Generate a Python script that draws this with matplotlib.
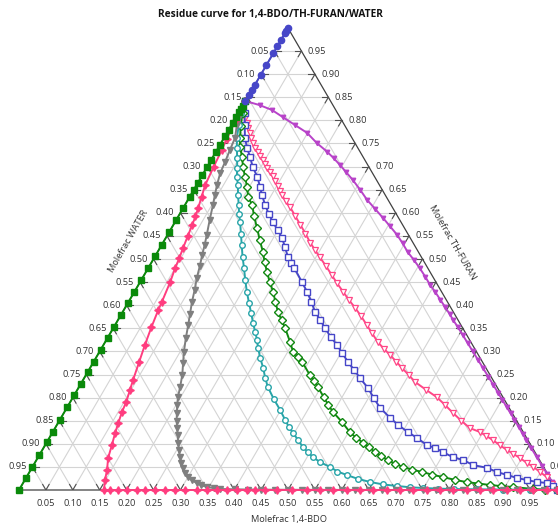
import numpy as np
import matplotlib
matplotlib.use("Agg")
import matplotlib.pyplot as plt

plt.rcParams["font.family"] = ["Open Sans", "DejaVu Sans"]

TITLE = "Residue curve for 1,4-BDO/TH-FURAN/WATER"
TICKS = [0.05, 0.10, 0.15, 0.20, 0.25, 0.30, 0.35, 0.40, 0.45, 0.50,
         0.55, 0.60, 0.65, 0.70, 0.75, 0.80, 0.85, 0.90, 0.95]

# every curve as (x_BDO, x_THF); x_WATER = 1 - x_BDO - x_THF
# binary THF/WATER edge, azeotrope -> pure THF
blue_circ_thf = [0.842, 0.855, 0.866, 0.877, 0.898, 0.920, 0.946, 0.960, 0.974, 0.989, 0.994, 1.0]

# binary THF/WATER edge, azeotrope -> pure WATER
green_sq_thf = [0.842, 0.832, 0.825, 0.818, 0.807, 0.794, 0.779, 0.766, 0.747, 0.732, 0.714,
                0.699, 0.682, 0.665, 0.649, 0.634, 0.610, 0.584, 0.558, 0.530, 0.506, 0.481,
                0.455, 0.429, 0.405, 0.379, 0.353, 0.329, 0.303, 0.277, 0.255, 0.229, 0.206,
                0.180, 0.152, 0.126, 0.104, 0.076, 0.050, 0.026, 0.0]

mag_bdo = [0.0, 0.031, 0.059, 0.087, 0.118, 0.149, 0.178, 0.207, 0.226, 0.245, 0.264, 0.285,
           0.309, 0.333, 0.357, 0.382, 0.404, 0.427, 0.446, 0.465, 0.485, 0.505, 0.524, 0.542,
           0.560, 0.577, 0.594, 0.610, 0.624, 0.639, 0.6565, 0.675, 0.6935, 0.713, 0.7315,
           0.750, 0.7673, 0.7847, 0.801, 0.8163, 0.8307, 0.845, 0.860, 0.875, 0.889, 0.9075,
           0.927, 0.9455, 0.964, 0.9825, 1.0]
mag_thf = [0.842, 0.833, 0.8225, 0.807, 0.790, 0.773, 0.751, 0.732, 0.718, 0.7035, 0.688, 0.671,
           0.650, 0.628, 0.609, 0.589, 0.571, 0.552, 0.534, 0.515, 0.498, 0.480, 0.462, 0.444,
           0.428, 0.412, 0.396, 0.381, 0.367, 0.353, 0.336, 0.318, 0.300, 0.281, 0.263,
           0.245, 0.228, 0.211, 0.195, 0.180, 0.166, 0.152, 0.137, 0.122, 0.108, 0.090,
           0.071, 0.053, 0.035, 0.017, 0.0]

pinktri_bdo = [0, 0.007, 0.017, 0.027, 0.035, 0.043, 0.051, 0.059, 0.068, 0.078,
               0.087, 0.096, 0.104, 0.112, 0.122, 0.132, 0.142, 0.152, 0.161, 0.170,
               0.183, 0.197, 0.216, 0.236, 0.255, 0.274, 0.290, 0.307, 0.328, 0.349,
               0.368, 0.388, 0.408, 0.428, 0.448, 0.468, 0.487, 0.507, 0.525, 0.544,
               0.562, 0.580, 0.600, 0.619, 0.648, 0.676, 0.700, 0.723, 0.747, 0.771,
               0.794, 0.810, 0.827, 0.845, 0.864, 0.880, 0.897, 0.914, 0.931, 0.949,
               0.967, 0.984, 1.0]
pinktri_thf = [0.842, 0.818, 0.806, 0.794, 0.783, 0.773, 0.762, 0.751, 0.741, 0.732,
               0.723, 0.714, 0.706, 0.697, 0.688, 0.679, 0.669, 0.658, 0.648, 0.638,
               0.625, 0.613, 0.594, 0.574, 0.555, 0.535, 0.520, 0.504, 0.485, 0.465,
               0.447, 0.429, 0.411, 0.394, 0.376, 0.357, 0.339, 0.320, 0.306, 0.292,
               0.278, 0.264, 0.249, 0.234, 0.217, 0.201, 0.184, 0.167, 0.150, 0.134,
               0.1255, 0.117, 0.108, 0.097, 0.0866, 0.078, 0.069, 0.059, 0.050, 0.039,
               0.028, 0.014, 0.0]

bluesq_bdo = [0, 0.012, 0.025, 0.039, 0.054, 0.069, 0.085, 0.104, 0.120, 0.132,
              0.149, 0.165, 0.182, 0.199, 0.216, 0.232, 0.248, 0.260, 0.271, 0.301,
              0.321, 0.340, 0.358, 0.376, 0.393, 0.413, 0.434, 0.453, 0.473, 0.493,
              0.513, 0.538, 0.560, 0.582, 0.612, 0.634, 0.660, 0.683, 0.710, 0.728,
              0.747, 0.771, 0.793, 0.817, 0.846, 0.869, 0.891, 0.913, 0.933, 0.954,
              0.974, 0.988, 1.0]
bluesq_thf = [0.842, 0.815, 0.789, 0.762, 0.740, 0.721, 0.699, 0.678, 0.656, 0.639,
              0.617, 0.598, 0.580, 0.563, 0.546, 0.525, 0.504, 0.492, 0.481, 0.450,
              0.429, 0.407, 0.385, 0.368, 0.351, 0.332, 0.314, 0.296, 0.277, 0.260,
              0.242, 0.221, 0.199, 0.178, 0.156, 0.141, 0.1255, 0.113, 0.097, 0.091,
              0.082, 0.071, 0.065, 0.054, 0.048, 0.039, 0.0325, 0.026, 0.0216, 0.0173,
              0.0152, 0.009, 0.0]

greendia_bdo = [0, 0.008, 0.018, 0.030, 0.040, 0.054, 0.067, 0.081, 0.096, 0.109,
                0.125, 0.141, 0.159, 0.177, 0.196, 0.210, 0.225, 0.241, 0.258, 0.273,
                0.289, 0.304, 0.319, 0.344, 0.360, 0.374, 0.388, 0.416, 0.430, 0.444,
                0.466, 0.482, 0.499, 0.527, 0.552, 0.570, 0.589, 0.605, 0.621, 0.637,
                0.653, 0.670, 0.689, 0.709, 0.730, 0.752, 0.774, 0.799, 0.824, 0.847,
                0.870, 0.892, 0.915, 0.954, 0.977, 1.0]
greendia_thf = [0.842, 0.815, 0.788, 0.762, 0.742, 0.721, 0.699, 0.678, 0.656, 0.634,
                0.617, 0.592, 0.567, 0.541, 0.515, 0.493, 0.472, 0.450, 0.429, 0.407,
                0.385, 0.368, 0.351, 0.320, 0.299, 0.288, 0.277, 0.249, 0.236, 0.223,
                0.201, 0.185, 0.169, 0.147, 0.1255, 0.113, 0.102, 0.092, 0.082, 0.073,
                0.065, 0.057, 0.050, 0.044, 0.039, 0.033, 0.028, 0.022, 0.017, 0.014,
                0.0108, 0.0085, 0.0065, 0.0022, 0.001, 0.0]

teal_bdo = [0, 0.006, 0.014, 0.024, 0.035, 0.046, 0.057, 0.066, 0.077, 0.088,
            0.100, 0.110, 0.121, 0.135, 0.149, 0.163, 0.178, 0.193, 0.209, 0.225,
            0.240, 0.254, 0.268, 0.280, 0.291, 0.306, 0.322, 0.336, 0.351, 0.375,
            0.399, 0.419, 0.433, 0.448, 0.465, 0.481, 0.496, 0.511, 0.530, 0.553,
            0.572, 0.593, 0.618, 0.644, 0.671, 0.698, 0.723, 0.749, 0.778, 0.807,
            0.850, 0.900, 0.950, 1.0]
teal_thf = [0.842, 0.815, 0.789, 0.762, 0.740, 0.719, 0.697, 0.678, 0.660, 0.638,
            0.617, 0.598, 0.580, 0.555, 0.530, 0.505, 0.4805, 0.455, 0.429, 0.405,
            0.383, 0.362, 0.342, 0.325, 0.307, 0.285, 0.264, 0.243, 0.223, 0.197,
            0.173, 0.1515, 0.137, 0.123, 0.108, 0.093, 0.082, 0.071, 0.060, 0.050,
            0.040, 0.0325, 0.024, 0.0173, 0.012, 0.0087, 0.006, 0.0043, 0.003, 0.002,
            0.0015, 0.001, 0.0005, 0.0]

gray_bdo = [0, 0.005, 0.010, 0.0205, 0.024, 0.028, 0.031, 0.038, 0.045, 0.052,
            0.062, 0.073, 0.080, 0.086, 0.094, 0.101, 0.110, 0.118, 0.127, 0.136,
            0.146, 0.157, 0.168, 0.179, 0.188, 0.195, 0.202, 0.210, 0.218, 0.227,
            0.236, 0.245, 0.254, 0.264, 0.272, 0.281, 0.290, 0.300, 0.311, 0.323,
            0.334, 0.346, 0.360, 0.373,
            0.40, 0.425, 0.45, 0.475, 0.50, 0.525, 0.55, 0.575, 0.60, 0.625, 0.65, 0.675,
            0.70, 0.725, 0.75, 0.775, 0.80, 0.825, 0.85, 0.875, 0.90, 0.925, 0.95, 0.975, 1.0]
gray_thf = [0.842, 0.812, 0.790, 0.762, 0.736, 0.710, 0.686, 0.660, 0.638, 0.617,
            0.585, 0.552, 0.530, 0.509, 0.484, 0.459, 0.433, 0.407, 0.382, 0.357,
            0.328, 0.299, 0.274, 0.249, 0.223, 0.201, 0.184, 0.167, 0.150, 0.134,
            0.118, 0.102, 0.086, 0.071, 0.059, 0.048, 0.037, 0.028, 0.021, 0.015,
            0.010, 0.0065, 0.004, 0.0022,
            0.0015, 0.001, 0.0008, 0.0006, 0.0005, 0.0004, 0.0003, 0.0003, 0.0002, 0.0002,
            0.0002, 0.0001, 0.0001, 0.0001, 0.0001, 0.0001, 0, 0, 0, 0, 0, 0, 0, 0, 0]

pinkstar_bdo = [0, 0.003, 0.006, 0.009, 0.012, 0.016, 0.022, 0.028, 0.032, 0.035,
                0.039, 0.043, 0.047, 0.050, 0.056, 0.062, 0.064, 0.070, 0.077, 0.085,
                0.093, 0.098, 0.104, 0.107, 0.112, 0.117, 0.124, 0.131, 0.142, 0.149,
                0.158, 0.170, 0.184, 0.201, 0.219, 0.234, 0.253, 0.271, 0.290, 0.309,
                0.331, 0.349, 0.368, 0.387, 0.405, 0.424, 0.439, 0.457, 0.480, 0.507,
                0.535, 0.559, 0.584, 0.609, 0.634, 0.658, 0.684, 0.708, 0.732, 0.758,
                0.782, 0.807, 0.833, 0.857, 0.881, 0.907, 0.931, 0.955, 0.981, 1.0]
pinkstar_thf = [0.842, 0.800, 0.760, 0.735, 0.700, 0.660, 0.635, 0.610, 0.592, 0.574,
                0.549, 0.524, 0.502, 0.4805, 0.450, 0.407, 0.390, 0.352, 0.314, 0.276,
                0.238, 0.2165, 0.1905, 0.1688, 0.145, 0.1234, 0.0974, 0.0693, 0.0433, 0.0216,
                0.0] + [0.0] * 39

H = np.sqrt(3) / 2


def tern(bdo, thf):
    bdo = np.asarray(bdo, float)
    thf = np.asarray(thf, float)
    return bdo + thf / 2, thf * H


fig = plt.figure(figsize=(5.58, 5.23), dpi=100)
ax = fig.add_axes([19 / 558, 33 / 523, 538 / 558, 462 / 523])
ax.set_xlim(0, 1)
ax.set_ylim(0, H)
ax.axis("off")

GRID = "#d4d4d4"
for k in TICKS:
    ax.plot(*tern([0, 1 - k], [k, k]), color=GRID, lw=0.8, zorder=1)
    ax.plot(*tern([k, k], [0, 1 - k]), color=GRID, lw=0.8, zorder=1)
    ax.plot(*tern([1 - k, 0], [0, 1 - k]), color=GRID, lw=0.8, zorder=1)

ax.plot(*tern([0, 1, 0, 0], [0, 0, 1, 0]), color="#404040", lw=0.9, zorder=2, clip_on=False)

# ticks and tick labels
t = 0.012
TK = "#505050"
for k in TICKS:
    ax.plot(*tern([k, k], [0, t]), color=TK, lw=0.8, zorder=2)
    ax.plot(*tern([k, k - t], [0, t]), color=TK, lw=0.8, zorder=2)
    ax.plot(*tern([1 - k, 1 - k - t], [k, k]), color=TK, lw=0.8, zorder=2)
    ax.plot(*tern([1 - k, 1 - k], [k, k - t]), color=TK, lw=0.8, zorder=2)
    ax.plot(*tern([0, t], [1 - k, 1 - k]), color=TK, lw=0.8, zorder=2)
    ax.plot(*tern([0, t], [1 - k, 1 - k - t]), color=TK, lw=0.8, zorder=2)
    lab = f"{k:.2f}"
    ax.annotate(lab, tern(k, 0), xytext=(0, -9.5), textcoords="offset points",
                ha="center", va="center", fontsize=6.7, color="#333333")
    ax.annotate(lab, tern(0, 1 - k), xytext=(-4.3, 0), textcoords="offset points",
                ha="right", va="center", fontsize=6.7, color="#333333")
    ax.annotate(lab, tern(1 - k, k), xytext=(4.6, 0), textcoords="offset points",
                ha="left", va="center", fontsize=6.7, color="#333333")

ax.text(0.501, -0.0544, "Molefrac 1,4-BDO", ha="center", va="center", fontsize=6.7, color="#333333")
ax.text(0.2026, 0.4667, "Molefrac WATER", ha="center", va="center", rotation=60,
        fontsize=6.7, color="#333333")
ax.text(0.8048, 0.4649, "Molefrac TH-FURAN", ha="center", va="center", rotation=-60,
        fontsize=6.7, color="#333333")
fig.text(270 / 558, 1 - 15 / 523, TITLE, ha="center", va="center", fontsize=7.3,
         fontweight="bold", color="#111111")

kw = dict(lw=1.4, clip_on=False)
ax.plot(*tern(mag_bdo, mag_thf), color="#b843c9", marker="v", ms=3.2, zorder=3, **kw)
ax.plot(*tern(pinktri_bdo, pinktri_thf), color="#ff4787", marker="v", ms=4.5, mfc="white",
        mew=0.9, zorder=4, **kw)
ax.plot(*tern(bluesq_bdo, bluesq_thf), color="#4646c8", marker="s", ms=4.0, mfc="white",
        mew=1.0, zorder=5, **kw)
ax.plot(*tern(greendia_bdo, greendia_thf), color="#118811", marker="D", ms=3.6, mfc="white",
        mew=1.0, zorder=6, **kw)
ax.plot(*tern(teal_bdo, teal_thf), color="#27a4a8", marker="o", ms=4.0, mfc="white",
        mew=1.0, zorder=7, **kw)
ax.plot(*tern(gray_bdo, gray_thf), color="#7f7f7f", marker="v", ms=4.5, zorder=8, **kw)
ax.plot(*tern(pinkstar_bdo, pinkstar_thf), color="#ff3d7f", marker=(4, 1, 0), ms=5.5,
        zorder=9, **kw)
ax.plot(*tern([0] * len(green_sq_thf), green_sq_thf), color="#0a8a0a", marker="s", ms=4.0,
        zorder=10, **kw)
ax.plot(*tern([0] * len(blue_circ_thf), blue_circ_thf), color="#4646c8", marker="o", ms=4.5,
        zorder=11, **kw)

fig.savefig("out.png", dpi=100)
